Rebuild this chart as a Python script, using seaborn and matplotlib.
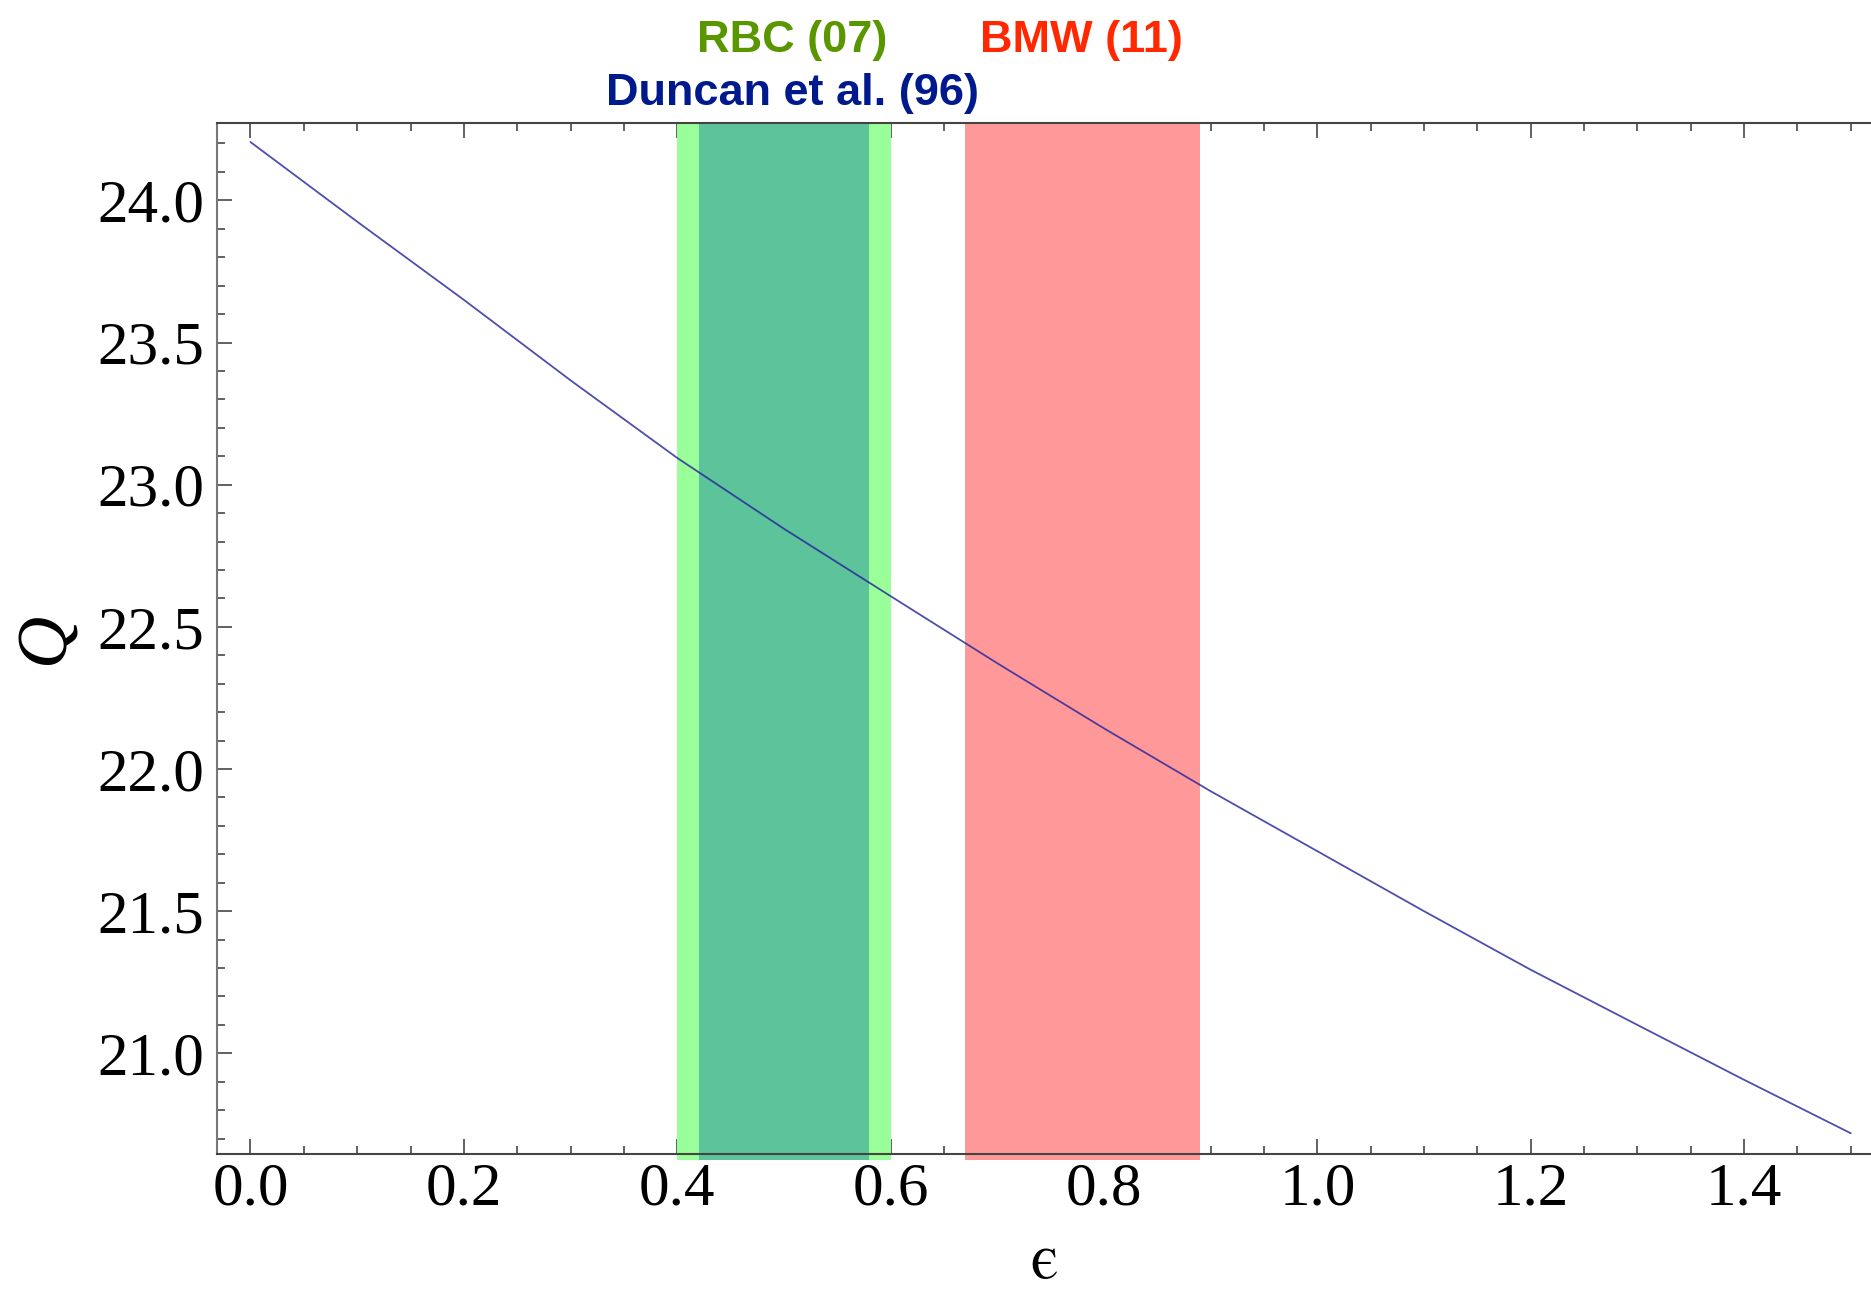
import numpy as np
import pandas as pd
import matplotlib
matplotlib.use("Agg")
import matplotlib.pyplot as plt
import matplotlib.transforms as mtransforms
from matplotlib.ticker import MultipleLocator, FormatStrFormatter
import seaborn as sns

# ---- data ----
eps = [0.0, 0.1, 0.2, 0.3, 0.4, 0.5, 0.6, 0.7, 0.8, 0.9, 1.0, 1.1, 1.2, 1.3, 1.4, 1.5]
Q = [24.205, 23.925, 23.650, 23.367, 23.094, 22.845, 22.608, 22.372, 22.143, 21.922,
     21.711, 21.500, 21.294, 21.100, 20.907, 20.719]

rbc_outer = (0.40, 0.60)
rbc_inner = (0.42, 0.58)
bmw_band = (0.67, 0.89)

band_labels = ["RBC (07)", "BMW (11)", "Duncan et al. (96)"]
x_ticks = [0.0, 0.2, 0.4, 0.6, 0.8, 1.0, 1.2, 1.4]
y_ticks = [21.0, 21.5, 22.0, 22.5, 23.0, 23.5, 24.0]

df = pd.DataFrame({"eps": eps, "Q": Q})

sns.set_style("ticks")
plt.rcParams["font.family"] = ["Liberation Serif", "STIXGeneral", "DejaVu Serif"]
plt.rcParams["mathtext.fontset"] = "stix"
plt.rcParams["text.color"] = "black"
plt.rcParams["axes.labelcolor"] = "black"
plt.rcParams["xtick.labelcolor"] = "black"
plt.rcParams["ytick.labelcolor"] = "black"

W, H = 1871, 1293
fig = plt.figure(figsize=(W / 100, H / 100), dpi=100)
ax = fig.add_axes([217 / W, 1 - 1154 / H, 1 - 217 / W, (1154 - 123) / H])

# bands
ax.axvspan(*rbc_outer, ymin=-0.006, ymax=1, color="#9aff98", lw=0, clip_on=False, zorder=1)
ax.axvspan(*rbc_inner, ymin=-0.006, ymax=1, color="#5cc39a", lw=0, clip_on=False, zorder=1.1)
ax.axvspan(*bmw_band, ymin=-0.006, ymax=1, color="#ff9999", lw=0, clip_on=False, zorder=1)

sns.lineplot(data=df, x="eps", y="Q", ax=ax, color="#22229a", lw=1.3, alpha=0.8, zorder=3)

ax.set_xlim(-0.0314, 1.519)
ax.set_ylim(20.646, 24.272)
ax.set_xticks(x_ticks)
ax.set_yticks(y_ticks)
ax.xaxis.set_minor_locator(MultipleLocator(0.05))
ax.yaxis.set_minor_locator(MultipleLocator(0.1))
ax.xaxis.set_major_formatter(FormatStrFormatter("%.1f"))
ax.yaxis.set_major_formatter(FormatStrFormatter("%.1f"))

ax.tick_params(which="both", direction="in", top=True, right=False, color="#555555", width=1.3)
ax.tick_params(which="major", length=11, labelsize=44, labelcolor="black")
ax.tick_params(which="minor", length=6)
ax.tick_params(axis="y", which="major", pad=9)
ax.tick_params(axis="x", which="major", pad=6)

for s in ["top", "bottom"]:
    ax.spines[s].set_color("#444444")
    ax.spines[s].set_linewidth(1.5)
ax.spines["left"].set_color("#777777")
ax.spines["left"].set_linewidth(1.5)
ax.spines["right"].set_visible(False)

ax.set_xlabel("\u03f5", fontsize=46, labelpad=11,
              family=["STIXGeneral", "DejaVu Serif"], color="black")
ax.set_ylabel("Q", fontsize=52, fontstyle="italic", rotation=90, labelpad=14, color="black")

trans = mtransforms.blended_transform_factory(ax.transData, ax.transAxes)
sans = ["Liberation Sans", "DejaVu Sans"]
ax.text(0.508, 1.0689, band_labels[0], transform=trans, ha="center", va="baseline",
        fontsize=32.5, fontweight="bold", family=sans, color="#5a9600")
ax.text(0.779, 1.0689, band_labels[1], transform=trans, ha="center", va="baseline",
        fontsize=32.5, fontweight="bold", family=sans, color="#ff2800")
ax.text(0.508, 1.0175, band_labels[2], transform=trans, ha="center", va="baseline",
        fontsize=32.5, fontweight="bold", family=sans, color="#00198c")

fig.savefig("out.png", dpi=100)
